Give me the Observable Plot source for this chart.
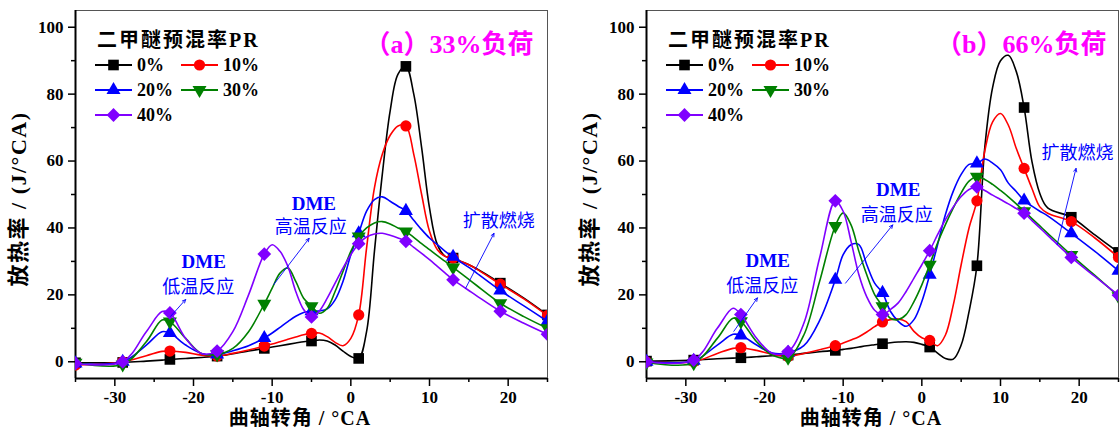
<!DOCTYPE html>
<html><head><meta charset="utf-8">
<script src="https://cdn.jsdelivr.net/npm/d3@7"></script>
<script src="https://cdn.jsdelivr.net/npm/@observablehq/plot@0.6"></script>
<style>
body{margin:0;background:#fff;}
#wrap{display:flex;width:1120px;height:432px;overflow:hidden;}
#wrap svg{flex:none;}
</style></head><body><div id="wrap"></div>
<script>
// crank angle grid (°CA)
const angles = [-35,-29,-26,-24,-23,-21,-19,-17,-15,-13,-11,-10,-9,-8,-7,-6,-5,-4,-3,-2,-1,0,1,2,3,4,5,6,7,8,9,10,11,12,13,14,15,16,19,22,25];
const markerAngles = [-35,-29,-23,-17,-11,-5,1,7,13,19,25];
const seriesNames = ["0%","10%","20%","30%","40%"];
const seriesColors = ["#000000","#ff0000","#0000ff","#008000","#8000ff"];
const seriesSymbols = ["square","circle","triangle","triangle","diamond2"];
const seriesRotate = [0,0,0,180,0];
const seriesR = [6,5.6,5.2,5.2,6.2];

// (a) 33% load
const load33_pr0  = [-0.3,-0.2,0.2,0.5,0.7,1.0,1.3,1.7,2.4,3.2,4.0,4.4,4.8,5.2,5.6,6.0,6.2,6.5,6.2,5.0,3.2,1.6,1.0,9,33,56,75,86,88.3,80,64,46,35,31.5,31,30,29,27.8,23.5,19,14];
const load33_pr10 = [-1,0,1.8,3.1,3.2,2.8,2.0,1.7,2.5,3.5,4.7,5.3,6.0,6.7,7.4,8.1,8.5,8.6,7.5,5.8,4.8,7.0,14,34,52,62,67.7,70.5,70.5,62,50,39,33.5,31.5,31,30,29,27.7,23.2,18.8,13.8];
const load33_pr20 = [-0.5,0,5,9,8.6,5,2.5,2.2,3.3,4.8,7.1,8.6,10.3,12,13.6,14.7,15.1,15.2,15.8,18.5,24,32,38.4,45,48.5,49.3,48,46.5,45.1,42.3,39.5,37,35,33,31.4,29.7,28.2,26.5,21.3,16.7,12.1];
const load33_pr30 = [-0.3,-0.8,6,12.5,12,7,2.5,2.2,4,9,17.3,22,26.5,28,24,19,16.6,14.5,16,21,27,33,37.4,40,41.5,41.9,41.2,40,38.9,37.2,35.3,33.5,31.7,30,28.2,26.4,24.6,22.8,17.5,13.5,10];
const load33_pr40 = [-0.5,0,9,15,14.6,7,2.5,3.2,9,20,32.2,35,33,28.5,21,15.6,13.4,15.2,19,23.5,28,32,35.3,37.3,38.2,38.4,37.8,37,36,34.2,32.4,30.5,28.5,26.5,24.5,22.9,21.3,19.7,15.1,11.5,8.2];

// (b) 66% load
const load66_pr0  = [0.2,0.5,0.9,1.1,1.2,1.5,1.8,2.0,2.5,3.0,3.4,3.7,4.0,4.4,4.8,5.1,5.4,5.7,5.9,6.0,5.8,5.2,4.4,2.6,1.0,0.8,5,15,28.7,64,82,90,91.6,86.8,76,59.8,50.3,46,43.2,37.9,32.7];
const load66_pr10 = [0,0,2.5,4,4.2,3.4,2.2,1.6,2.5,3.6,4.8,5.6,6.5,7.5,8.9,10.5,11.9,12.6,12.8,12,9.1,7.2,6.4,4.8,8,17,29,40,48.1,63,71.7,74.2,70.7,63.8,57.8,51.8,46.3,44.4,41.9,37,31.2];
const load66_pr20 = [0,0.3,5,8.2,7.9,5,2.6,2.7,4.8,12.3,24.5,32,35,35,29,23.5,20.6,15.1,12.1,10.6,12.6,18,26,35,44,51,56,59,59.3,60.6,59.4,57.4,53.4,50.9,48.2,46.5,45,43.6,38.4,33,27.2];
const load66_pr30 = [-0.2,-0.4,7,13,12.1,6,2,1.2,8,24,40.6,44.5,40.9,33,26,20.1,16.6,13,12.6,14.1,18,23,29,35.5,41,46,50.5,54,55.3,54.5,53,51.2,49.3,47.2,45,42.8,40.6,38.4,31.9,25.8,19.6];
const load66_pr40 = [0,0.5,10,16,14.1,7,2.5,3,11.5,31,48.1,45,36,26,19.4,15.4,14.1,15.6,17.6,21,25,29,33.2,38,42.5,46.3,49.4,51.5,52.3,51.2,49.8,48.5,47.2,45.8,44.4,42.2,40,37.8,31.2,25.5,19.9];

const xTicks = [-30,-20,-10,0,10,20];
const xMinorTicks = [-35,-25,-15,-5,5,15,25];
const yTicks = [0,20,40,60,80,100];
const yMinorTicks = [10,30,50,70,90];

const legendTitle = "二甲醚预混率PR";
const xLabel = "曲轴转角 / °CA";
const yLabel = "放热率 / (J/°CA)";

// annotations (data coordinates)
const notes33 = [
  {x:-18.7, y:30.0, text:"DME", bold:true},
  {x:-19.4, y:22.4, text:"低温反应"},
  {x:-4.7, y:47.3, text:"DME", bold:true},
  {x:-5.1, y:40.3, text:"高温反应"},
  {x:18.8, y:41.9, text:"扩散燃烧"}
];
const arrows33 = [
  {x1:-22.9, y1:13.6, x2:-21.0, y2:18.6},
  {x1:-9.8, y1:23.1, x2:-5.3, y2:36.9},
  {x1:14.6, y1:22.0, x2:18.2, y2:38.4}
];
const notes66 = [
  {x:-19.6, y:30.1, text:"DME", bold:true},
  {x:-20.3, y:22.7, text:"低温反应"},
  {x:-3.0, y:51.3, text:"DME", bold:true},
  {x:-3.2, y:43.8, text:"高温反应"},
  {x:19.8, y:62.3, text:"扩散燃烧"}
];
const arrows66 = [
  {x1:-23.9, y1:9.1, x2:-20.9, y2:19.1},
  {x1:-9.7, y1:23.5, x2:-3.7, y2:40.9},
  {x1:17.2, y1:35.0, x2:19.6, y2:57.8}
];

const SERIF = "'Liberation Serif','Times New Roman','Noto Sans CJK SC',serif";

function makePanel({series, title, marginLeft, marginRight, titleDx, notes, arrows}) {
  const W = 560, H = 432, MT = 10, MB = 54;
  const marks = [
    Plot.frame({stroke: "#555", strokeWidth: 1}),
    Plot.axisX({ticks: xMinorTicks, tickSize: 4, tickFormat: () => "", strokeWidth: 1.5, label: null}),
    Plot.axisX({ticks: xTicks, tickSize: 8, tickPadding: 4, tickFormat: d => String(d), strokeWidth: 1.5, label: null, fontSize: 17, fontWeight: "bold"}),
    Plot.axisY({ticks: yMinorTicks, tickSize: 4, tickFormat: () => "", strokeWidth: 1.5, label: null}),
    Plot.axisY({ticks: yTicks, tickSize: 7, tickPadding: 5, tickFormat: d => String(d), strokeWidth: 1.5, label: null, fontSize: 17, fontWeight: "bold"}),
    Plot.ruleY([-5], {strokeWidth: 2}),
    Plot.ruleX([-35], {strokeWidth: 2})
  ];
  series.forEach((vals, si) => {
    const rows = vals.map((v, i) => ({x: angles[i], y: v}));
    marks.push(Plot.line(rows, {x: "x", y: "y", stroke: seriesColors[si], strokeWidth: 1.6, curve: "catmull-rom", clip: true}));
    marks.push(Plot.dot(rows.filter(d => markerAngles.includes(d.x)), {
      x: "x", y: "y", symbol: seriesSymbols[si], r: seriesR[si], fill: seriesColors[si],
      stroke: "none", rotate: seriesRotate[si], clip: true
    }));
  });
  marks.push(Plot.arrow(arrows, {x1: "x1", y1: "y1", x2: "x2", y2: "y2", stroke: "#0000ff", strokeWidth: 0.9, headLength: 6, headAngle: 50}));
  marks.push(Plot.text(notes.filter(d => d.bold), {x: "x", y: "y", text: "text", fill: "#0000ff", fontSize: 19, fontWeight: "bold", fontFamily: SERIF}));
  marks.push(Plot.text(notes.filter(d => !d.bold), {x: "x", y: "y", text: "text", fill: "#0000ff", fontSize: 18, fontWeight: "normal", fontFamily: "'Noto Sans CJK SC',sans-serif"}));
  marks.push(Plot.text([title], {frameAnchor: "top-right", dx: titleDx, dy: 24, text: d => d, fill: "#ff00ff", fontSize: 26, fontWeight: "bold", fontFamily: SERIF, textAnchor: "end"}));

  const svg = Plot.plot({
    width: W, height: H, marginLeft, marginRight, marginTop: MT, marginBottom: MB,
    x: {domain: [-35, 25], label: null},
    y: {domain: [-5, 105], label: null},
    style: {fontFamily: SERIF, fontSize: "16px", color: "#000", background: "transparent"},
    marks
  });

  const s = d3.select(svg);
  const L = marginLeft, plotW = W - marginLeft - marginRight;
  // axis titles
  s.append("text").attr("x", L + plotW / 2 - 11).attr("y", 425)
    .attr("text-anchor", "middle").attr("font-family", SERIF).attr("font-size", 20)
    .attr("font-weight", "bold").attr("letter-spacing", 1).attr("fill", "#000").text(xLabel);
  s.append("text").attr("transform", `translate(${L - 54},${MT + (H - MT - MB) / 2 + 5}) rotate(-90)`)
    .attr("text-anchor", "middle").attr("dominant-baseline", "middle").attr("font-family", SERIF).attr("font-size", 22)
    .attr("font-weight", "bold").attr("letter-spacing", 1.5).attr("fill", "#000").text(yLabel);
  // legend
  const g = s.append("g").attr("text-anchor", "start");
  g.append("text").attr("x", L + 22).attr("y", 47).attr("text-anchor", "start").attr("font-family", SERIF).attr("font-size", 20)
    .attr("font-weight", "bold").attr("letter-spacing", 2).attr("fill", "#000").text(legendTitle);
  const symMap = {square: d3.symbolSquare, circle: d3.symbolCircle, triangle: d3.symbolTriangle, diamond2: d3.symbolDiamond2};
  seriesNames.forEach((name, i) => {
    const col = i % 2, row = Math.floor(i / 2);
    const x0 = L + 20 + col * 86, yy = 65 + row * 25;
    g.append("line").attr("x1", x0).attr("x2", x0 + 37).attr("y1", yy).attr("y2", yy)
      .attr("stroke", seriesColors[i]).attr("stroke-width", 1.8);
    g.append("path").attr("d", d3.symbol(symMap[seriesSymbols[i]], Math.PI * seriesR[i] * seriesR[i])())
      .attr("transform", `translate(${x0 + 18.5},${yy}) rotate(${seriesRotate[i]})`).attr("fill", seriesColors[i]);
    g.append("text").attr("x", x0 + 42).attr("y", yy).attr("text-anchor", "start").attr("dominant-baseline", "central")
      .attr("font-family", SERIF).attr("font-size", 18).attr("font-weight", "bold").attr("fill", "#000").text(name);
  });
  return svg;
}

const wrap = document.getElementById("wrap");
wrap.appendChild(makePanel({
  series: [load33_pr0, load33_pr10, load33_pr20, load33_pr30, load33_pr40],
  title: "（a）33%负荷", marginLeft: 75, marginRight: 13, titleDx: -14,
  notes: notes33, arrows: arrows33
}));
wrap.appendChild(makePanel({
  series: [load66_pr0, load66_pr10, load66_pr20, load66_pr30, load66_pr40],
  title: "（b）66%负荷", marginLeft: 86, marginRight: 2, titleDx: -12,
  notes: notes66, arrows: arrows66
}));
</script></body></html>
